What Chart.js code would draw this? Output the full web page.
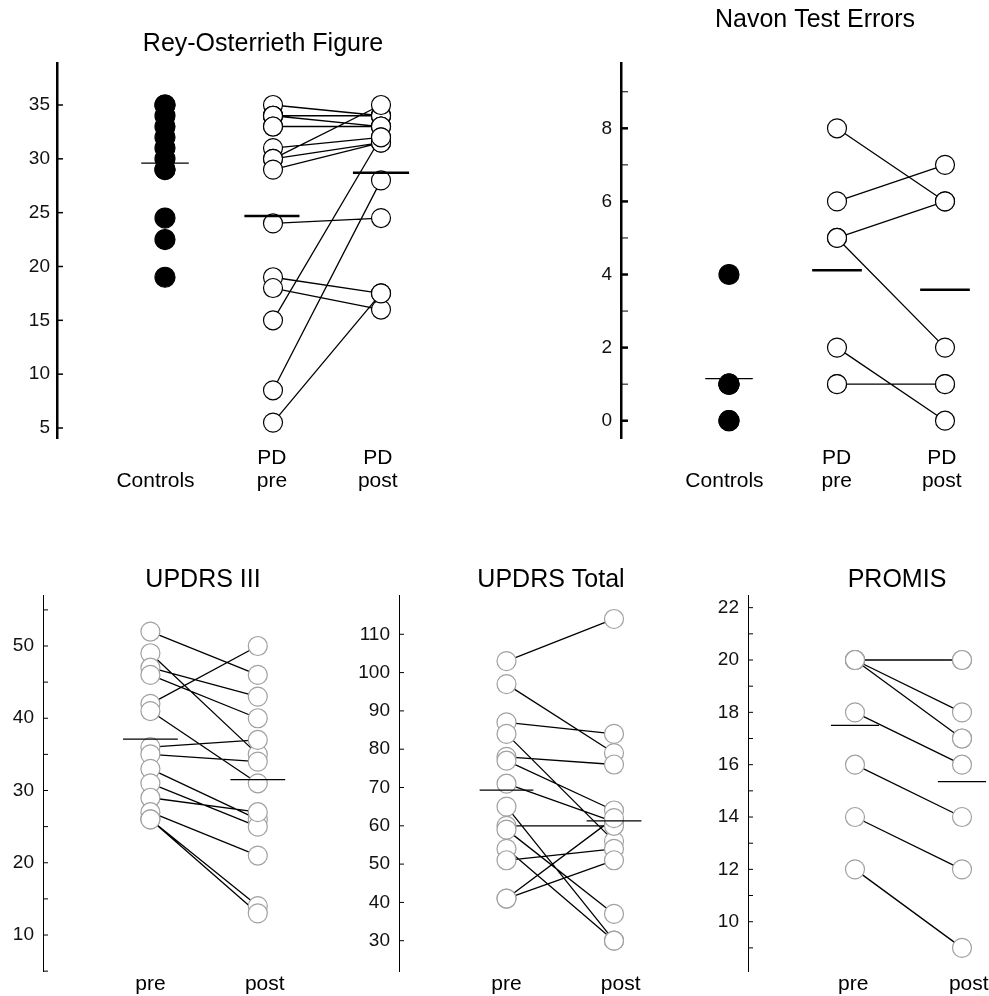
<!DOCTYPE html>
<html>
<head>
<meta charset="utf-8">
<script src="https://cdn.jsdelivr.net/npm/chart.js@4.4.0/dist/chart.umd.min.js"></script>
<style>
  html, body { margin: 0; padding: 0; background: #fff; width: 989px; height: 996px; overflow: hidden; }
  canvas { position: absolute; }
</style>
</head>
<body>
<canvas id="rey" width="526" height="498" style="left:0px;top:0px"></canvas>
<canvas id="navon" width="470" height="498" style="left:580px;top:0px"></canvas>
<canvas id="updrs3" width="406" height="446" style="left:0px;top:550px"></canvas>
<canvas id="updrsTot" width="392" height="446" style="left:355px;top:550px"></canvas>
<canvas id="promis" width="384" height="446" style="left:705px;top:550px"></canvas>
<script>
// ---- Rey-Osterrieth Figure ----
const reyControls = [35, 35, 34, 33, 32, 31, 30, 29, 29, 24.5, 22.5, 19];
const reyPre  = [35, 34, 34, 34, 33, 33, 31, 30, 30, 29, 24, 19, 18, 15, 8.5, 5.5];
const reyPost = [34, 34, 34, 33, 33, 33, 32, 35, 31.5, 31.5, 24.5, 17.5, 16, 32, 28, 17.5];
const reyMeans = [29.6, 24.7, 28.7];           // controls, pre, post
const reyTicks = [5, 10, 15, 20, 25, 30, 35];

// ---- Navon Test Errors ----
const navonControls = [4, 1, 1, 1, 0, 0];
const navonPre  = [8, 6, 5, 5, 2, 1, 1];
const navonPost = [6, 7, 6, 2, 0, 1, 1];
const navonMeans = [1.15, 4.12, 3.58];
const navonTicks = [0, 2, 4, 6, 8];
const navonMinor = [1, 3, 5, 7, 9];

// ---- UPDRS III ----
const u3Pre  = [52, 49, 47, 46, 42, 41, 36, 35, 33, 31, 29, 27, 26, 26];
const u3Post = [46, 35, 43, 40, 50, 31, 37, 34, 26, 25, 27, 21, 14, 13];
const u3Means = [37.1, 31.5];
const u3Ticks = [10, 20, 30, 40, 50];
const u3Minor = [5, 15, 25, 35, 45, 55];

// ---- UPDRS Total ----
const utPre  = [103, 97, 87, 84, 78, 77, 71, 65, 60, 59, 54, 51, 41, 41];
const utPost = [114, 79, 84, 56, 76, 64, 61, 30, 60, 37, 30, 54, 62, 51];
const utMeans = [69.3, 61.3];
const utTicks = [30, 40, 50, 60, 70, 80, 90, 100, 110];

// ---- PROMIS ----
const prPre  = [20, 20, 20, 20, 20, 18, 16, 14, 12];
const prPost = [20, 20, 18, 17, 17, 16, 14, 12, 9];
const prMeans = [17.5, 15.35];
const prTicks = [10, 12, 14, 16, 18, 20, 22];
const prMinor = [9, 11, 13, 15, 17, 19, 21];

const groupLabels3 = [['', 'Controls'], ['PD', 'pre'], ['PD', 'post']];
const groupLabels2 = ['pre', 'post'];

const FONT = "'Liberation Sans', Arial, Helvetica, sans-serif";

// tick marks drawn on the inner side of the y axis
const innerTicks = {
  id: 'innerTicks',
  afterDraw(chart, args, o) {
    const ys = chart.scales.y;
    const x0 = chart.chartArea.left;
    const ctx = chart.ctx;
    ctx.save();
    ctx.strokeStyle = '#000';
    const draw = (vals, w) => {
      ctx.lineWidth = w;
      vals.forEach(v => {
        const p = ys.getPixelForValue(v);
        ctx.beginPath();
        ctx.moveTo(x0, p);
        ctx.lineTo(x0 + o.len, p);
        ctx.stroke();
      });
    };
    draw(o.major || [], o.majorWidth);
    draw(o.minor || [], o.minorWidth);
    ctx.restore();
  }
};

// keep a fixed pixel distance between the groups on the x axis
const catSpacing = {
  id: 'catSpacing',
  afterLayout(chart, args, o) {
    const xs = chart.scales.x;
    xs.min = 0;
    xs.max = (chart.chartArea.right - chart.chartArea.left) / o.unit;
    xs.configure();
  }
};

function pts(vals, x) {
  return vals.map(v => ({ x: x, y: v }));
}

function pairs(pre, post, x1, x2) {
  const out = [];
  pre.forEach((v, i) => {
    out.push({ x: x1, y: v }, { x: x2, y: post[i] }, { x: x2, y: null });
  });
  return out;
}

function meanBars(means, xs, half) {
  const out = [];
  means.forEach((m, i) => {
    out.push({ x: xs[i] - half[i], y: m }, { x: xs[i] + half[i], y: m }, { x: xs[i], y: null });
  });
  return out;
}

function makePanel(id, c) {
  const datasets = [];
  // means on top
  c.meanSets.forEach(ms => datasets.push({
    data: ms.data, showLine: true, borderColor: '#000', borderWidth: ms.width,
    pointRadius: 0, spanGaps: false, order: 0
  }));
  c.pointSets.forEach(ps => datasets.push({
    data: ps.data, pointRadius: ps.r, pointBackgroundColor: ps.fill,
    pointBorderColor: ps.stroke, pointBorderWidth: 1.2, showLine: false, order: 1
  }));
  datasets.push({
    data: c.links, showLine: true, borderColor: '#000', borderWidth: 1.3,
    pointRadius: 0, spanGaps: false, order: 2
  });

  return new Chart(document.getElementById(id), {
    type: 'scatter',
    data: { datasets },
    options: {
      responsive: false,
      animation: false,
      events: [],
      layout: { padding: 0 },
      clip: false,
      plugins: {
        legend: { display: false },
        tooltip: { enabled: false },
        title: {
          display: true, text: c.title, color: '#000',
          font: { family: FONT, size: 25, weight: 'normal', lineHeight: 1.2 },
          padding: { top: c.titleTop, bottom: c.titleBottom }
        },
        innerTicks: { major: c.yTicks, minor: c.yMinor, len: c.tickLen,
                      majorWidth: c.majorWidth, minorWidth: c.minorWidth },
        catSpacing: { unit: c.unit }
      },
      scales: {
        x: {
          type: 'linear', min: 0, max: 4,
          border: { display: false },
          grid: { display: false, drawTicks: false },
          afterBuildTicks: s => { s.ticks = c.labelX.map(v => ({ value: v })); },
          afterFit: s => { s.height = c.xHeight; },
          ticks: {
            autoSkip: false, maxRotation: 0, color: '#000', padding: c.labelPad,
            font: { family: FONT, size: 21, lineHeight: 1.1 },
            callback: (v, i) => c.catLabels[i]
          }
        },
        y: {
          min: c.yMin, max: c.yMax,
          border: { display: true, color: '#000', width: c.axisWidth },
          grid: { display: false, drawTicks: false },
          afterBuildTicks: s => { s.ticks = c.yTicks.map(v => ({ value: v })); },
          afterFit: s => { s.width = c.yWidth; },
          ticks: { color: '#111', padding: c.yPad, font: { family: FONT, size: 19 } }
        }
      }
    },
    plugins: [innerTicks, catSpacing]
  });
}

// Rey-Osterrieth
makePanel('rey', {
  title: 'Rey-Osterrieth Figure', titleTop: 29, titleBottom: 4,
  yMin: 4.07, yMax: 38.9, yTicks: reyTicks, yMinor: [], yWidth: 57, yPad: 7,
  unit: 108, xHeight: 60, labelPad: 9, labelX: [0.912, 1.99, 2.97], catLabels: groupLabels3,
  axisWidth: 2.5, tickLen: 6, majorWidth: 1.5, minorWidth: 1,
  pointSets: [
    { data: pts(reyControls, 1), r: 10, fill: '#000', stroke: '#000' },
    { data: pts(reyPre, 2).concat(pts(reyPost, 3)), r: 9.5, fill: '#fff', stroke: '#000' }
  ],
  meanSets: [
    { data: meanBars([reyMeans[0]], [1], [0.22]), width: 1.3 },
    { data: meanBars(reyMeans.slice(1), [1.99, 3], [0.255, 0.26]), width: 2.5 }
  ],
  links: pairs(reyPre, reyPost, 2, 3)
});

// Navon
makePanel('navon', {
  title: 'Navon Test Errors', titleTop: 5, titleBottom: 28,
  yMin: -0.473, yMax: 9.787, yTicks: navonTicks, yMinor: navonMinor, yWidth: 41, yPad: 9,
  unit: 108, xHeight: 60, labelPad: 9, labelX: [0.958, 1.997, 2.97], catLabels: groupLabels3,
  axisWidth: 2.5, tickLen: 7, majorWidth: 2.5, minorWidth: 1,
  pointSets: [
    { data: pts(navonControls, 1), r: 10, fill: '#000', stroke: '#000' },
    { data: pts(navonPre, 2).concat(pts(navonPost, 3)), r: 9.5, fill: '#fff', stroke: '#000' }
  ],
  meanSets: [
    { data: meanBars([navonMeans[0]], [1], [0.22]), width: 1.3 },
    { data: meanBars(navonMeans.slice(1), [2, 3], [0.23, 0.23]), width: 2.5 }
  ],
  links: pairs(navonPre, navonPost, 2, 3)
});

// UPDRS III
makePanel('updrs3', {
  title: 'UPDRS III', titleTop: 15, titleBottom: 0,
  yMin: 5.02, yMax: 57.06, yTicks: u3Ticks, yMinor: u3Minor, yWidth: 43, yPad: 9,
  unit: 107.4, xHeight: 25, labelPad: 2, labelX: [1, 2.065], catLabels: groupLabels2,
  axisWidth: 1, tickLen: 5, majorWidth: 1, minorWidth: 1,
  pointSets: [
    { data: pts(u3Pre, 1).concat(pts(u3Post, 2)), r: 9.5, fill: '#fff', stroke: '#a0a0a0' }
  ],
  meanSets: [
    { data: meanBars(u3Means, [1, 2], [0.255, 0.255]), width: 1.3 }
  ],
  links: pairs(u3Pre, u3Post, 1, 2)
});

// UPDRS Total
makePanel('updrsTot', {
  title: 'UPDRS Total', titleTop: 15, titleBottom: 0,
  yMin: 22.09, yMax: 120.26, yTicks: utTicks, yMinor: [], yWidth: 44, yPad: 9,
  unit: 107.5, xHeight: 25, labelPad: 2, labelX: [1, 2.062], catLabels: groupLabels2,
  axisWidth: 1, tickLen: 5, majorWidth: 1, minorWidth: 1,
  pointSets: [
    { data: pts(utPre, 1).concat(pts(utPost, 2)), r: 9.5, fill: '#fff', stroke: '#a0a0a0' }
  ],
  meanSets: [
    { data: meanBars(utMeans, [1, 2], [0.25, 0.255]), width: 1.3 }
  ],
  links: pairs(utPre, utPost, 1, 2)
});

// PROMIS
makePanel('promis', {
  title: 'PROMIS', titleTop: 15, titleBottom: 0,
  yMin: 8.116, yMax: 22.484, yTicks: prTicks, yMinor: prMinor, yWidth: 43, yPad: 9,
  unit: 107, xHeight: 25, labelPad: 2, labelX: [0.984, 2.063], catLabels: groupLabels2,
  axisWidth: 1, tickLen: 5, majorWidth: 1, minorWidth: 1,
  pointSets: [
    { data: pts(prPre, 1).concat(pts(prPost, 2)), r: 9.5, fill: '#fff', stroke: '#a0a0a0' }
  ],
  meanSets: [
    { data: meanBars(prMeans, [1, 2], [0.225, 0.225]), width: 1.3 }
  ],
  links: pairs(prPre, prPost, 1, 2)
});
</script>
</body>
</html>
